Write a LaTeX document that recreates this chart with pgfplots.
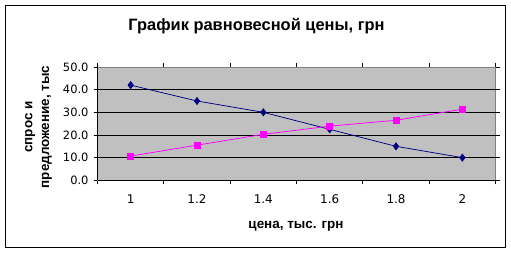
\documentclass[border=0pt]{standalone}
\usepackage{fontspec}
\setmainfont{Liberation Sans}
\newfontfamily\dejavu{DejaVu Sans}
\usepackage{pgfplots}
\pgfplotsset{compat=1.18}
\definecolor{plotgray}{RGB}{192,192,192}
\definecolor{navyc}{RGB}{0,0,128}
\definecolor{magc}{RGB}{255,0,255}
\begin{document}
\begin{tikzpicture}[x=1bp,y=1bp]
\useasboundingbox (0,0) rectangle (511,253);
\fill[white] (0,0) rectangle (511,253);
\draw[black, line width=1bp] (5.5,5.5) rectangle (505.5,247.5);
\node[font=\fontsize{16.5}{18}\selectfont\bfseries] at (256.5,227) {График равновесной цены, грн};
\node[font=\fontsize{13.5}{15}\selectfont\bfseries] at (296,27) {цена, тыс. грн};
\node[font=\fontsize{13.5}{17}\selectfont\bfseries, rotate=90, align=center] at (38.5,126) {спрос и\\предложение, тыс};
\begin{axis}[
  at={(97.5bp,72.7bp)}, anchor=south west,
  width=398bp, height=113.3bp, scale only axis,
  xmin=-0.5, xmax=5.5, ymin=0, ymax=50,
  axis background/.style={fill=plotgray},
  axis line style={draw=gray, line width=0.75bp},
  xtick={-0.5,0.5,...,5.5}, xticklabels={},
  x tick style={draw=black, line width=0.75bp},
  major tick length=4bp,
  tick align=outside,
  extra x ticks={0,1,2,3,4,5},
  extra x tick labels={1,1.2,1.4,1.6,1.8,2},
  extra x tick style={major tick length=0pt, tick style={draw=none}},
  xticklabel style={font=\dejavu\fontsize{12}{14}\selectfont, yshift=-11bp},
  ytick={0,10,...,50},
  y tick style={draw=black, line width=0.75bp},
  yticklabel style={font=\dejavu\fontsize{11.5}{13}\selectfont, xshift=-1.5bp},
  yticklabel={\pgfmathprintnumber[fixed,fixed zerofill,precision=1]{\tick}},
  /pgf/number format/assume math mode=true,
  extra y ticks={10,20,30,40}, extra y tick labels={},
  extra y tick style={grid=major, major tick length=0pt, grid style={black, line width=0.75bp}},
  clip=false,
]
\draw[black, line width=0.75bp] (rel axis cs:0,0) -- (rel axis cs:1,0);
\draw[black, line width=0.75bp] (rel axis cs:0,0) -- (rel axis cs:0,1);
\addplot[navyc, line width=0.75bp, mark=diamond*, mark size=3.5bp, mark options={solid, fill=navyc}] coordinates {
(0,42.0) (1,35.0) (2,30.0) (3,22.5) (4,15.0) (5,10.0)};
\addplot[magc, line width=0.75bp, mark=square*, mark size=3bp, mark options={solid, fill=magc}] coordinates {
(0,10.7) (1,15.5) (2,20.3) (3,23.9) (4,26.5) (5,31.4)};
\end{axis}
\end{tikzpicture}
\end{document}
